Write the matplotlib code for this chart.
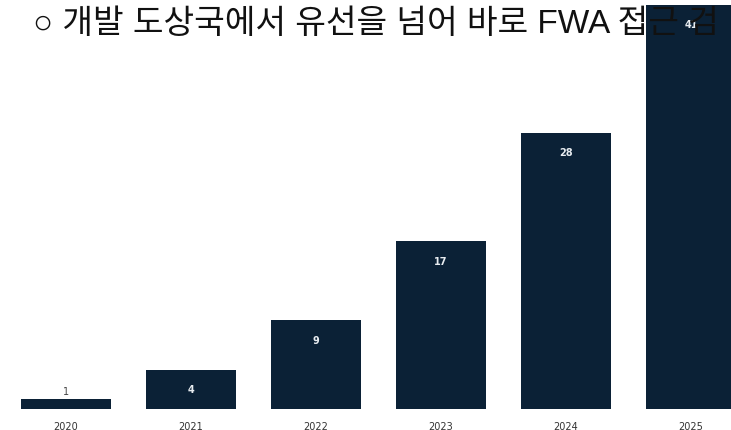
import matplotlib

matplotlib.use("Agg")
import matplotlib.pyplot as plt  # noqa: E402

years = ["2020", "2021", "2022", "2023", "2024", "2025"]
values = [1, 4, 9, 17, 28, 41]
headline = "○ 개발 도상국에서 유선을 넘어 바로 FWA 접근 검"

BAR = "#0b2136"

fig = plt.figure(figsize=(7.31, 4.31), dpi=100)
ax = fig.add_axes([0, 21 / 431, 1, 410 / 431])

x = list(range(len(years)))
ax.bar(x, values, width=0.72, color=BAR)

# value labels: inside the bar, except the tiny first one
for xi, v in zip(x, values):
    if v < 3:
        ax.annotate(str(v), (xi, v), xytext=(0, 6), textcoords="offset points",
                    ha="center", va="center", fontsize=7, color="#444444")
    else:
        ax.annotate(str(v), (xi, v), xytext=(0, -14), textcoords="offset points",
                    ha="center", va="center", fontsize=7, color="#e8ecf0",
                    fontweight="bold")

ax.set_xlim(-0.528, 5.32)
ax.set_ylim(0, 41.6)
ax.set_xticks(x)
ax.set_xticklabels(years, fontsize=7, color="#333333")
ax.tick_params(axis="x", length=0, pad=9)
ax.set_yticks([])
for s in ax.spines.values():
    s.set_visible(False)

fig.text(33 / 731, 1 - 25 / 431, headline, fontsize=24, color="#111111",
         va="center", ha="left", family=["Liberation Sans", "Noto Sans CJK KR"])

fig.savefig("out.png", dpi=100)
plt.close(fig)
